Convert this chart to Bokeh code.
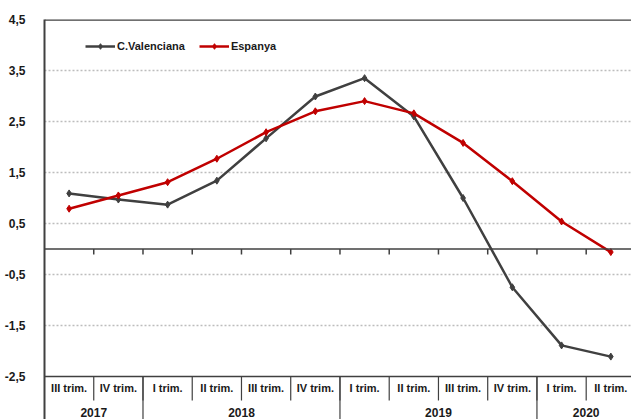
from bokeh.plotting import figure
from bokeh.models import (ColumnDataSource, FixedTicker, Span, Legend, LegendItem,
                          Range1d, CustomJSTickFormatter)
from bokeh.core.properties import value
from bokeh.embed import file_html
from bokeh.resources import INLINE

# ---- data ----
quarters = ["III trim.", "IV trim.", "I trim.", "II trim.", "III trim.", "IV trim.",
            "I trim.", "II trim.", "III trim.", "IV trim.", "I trim.", "II trim."]
years = ["2017", "2018", "2019", "2020"]
year_counts = [2, 4, 4, 2]
valenciana = [1.09, 0.97, 0.87, 1.34, 2.17, 2.99, 3.35, 2.60, 1.00, -0.75, -1.89, -2.11]
espanya = [0.79, 1.05, 1.31, 1.77, 2.29, 2.70, 2.90, 2.66, 2.08, 1.33, 0.54, -0.06]
y_ticks = [-2.5, -1.5, -0.5, 0.5, 1.5, 2.5, 3.5, 4.5]
grid_ticks = [-1.5, -0.5, 0.5, 1.5, 2.5, 3.5]

FONT = "Liberation Sans"
DARK = "#404040"
RED = "#C00000"

n = len(quarters)
xs = [i + 0.5 for i in range(n)]

p = figure(width=631, height=419, output_backend="svg", toolbar_location=None,
           x_range=Range1d(0, 11.92), y_range=Range1d(-3.343, 4.5),
           min_border_left=44, min_border_right=0, min_border_top=19, min_border_bottom=0)
p.outline_line_color = None
p.background_fill_color = "white"
p.border_fill_color = "white"

# axes
p.xaxis.visible = False
p.xgrid.visible = False
p.yaxis.ticker = FixedTicker(ticks=y_ticks)
p.yaxis.formatter = CustomJSTickFormatter(code="return tick.toFixed(1).replace('.', ',');")
p.yaxis.major_tick_line_color = None
p.yaxis.minor_tick_line_color = None
p.yaxis.major_label_standoff = 13
p.yaxis.axis_line_color = DARK
p.yaxis.axis_line_width = 2
p.yaxis.major_label_text_font = FONT
p.yaxis.major_label_text_font_style = "bold"
p.yaxis.major_label_text_font_size = "12px"
p.yaxis.major_label_text_color = "#1a1a1a"

p.ygrid.ticker = FixedTicker(ticks=grid_ticks)
p.ygrid.grid_line_color = "#bdbdbd"
p.ygrid.grid_line_dash = "2 2"
p.ygrid.grid_line_width = 1.5

# frame lines
p.add_layout(Span(location=4.5, dimension="width", line_color=DARK, line_width=2.5))
p.add_layout(Span(location=-2.5, dimension="width", line_color=DARK, line_width=1.5))
p.add_layout(Span(location=0, dimension="width", line_color=DARK, line_width=1.5))

# tick marks on zero line
bounds = list(range(1, n))
p.segment(x0=bounds, y0=[0] * len(bounds), x1=bounds, y1=[-0.11] * len(bounds),
          line_color=DARK, line_width=1.5)

# category table separators
p.segment(x0=bounds, y0=[-2.5] * len(bounds), x1=bounds, y1=[-2.97] * len(bounds),
          line_color=DARK, line_width=1.2)
ybounds = []
acc = 0
for c in year_counts[:-1]:
    acc += c
    ybounds.append(acc)
p.segment(x0=ybounds, y0=[-2.5] * len(ybounds), x1=ybounds, y1=[-3.5] * len(ybounds),
          line_color=DARK, line_width=1.2)

# quarter labels
p.text(x=xs, y=[-2.735] * n, text=quarters, text_align="center", text_baseline="middle",
       text_font=value(FONT), text_font_style="bold", text_font_size="11px",
       text_color="#1a1a1a")
# year labels
ycent = []
acc = 0
for c in year_counts:
    ycent.append(acc + c / 2)
    acc += c
p.text(x=ycent, y=[-3.21] * len(years), text=years, text_align="center",
       text_baseline="middle", text_font=value(FONT), text_font_style="bold",
       text_font_size="12px", text_color="#1a1a1a")

# series
src = ColumnDataSource(dict(x=xs, v=valenciana, e=espanya))
lv = p.line("x", "v", source=src, line_color=DARK, line_width=2.5)
mv = p.scatter("x", "v", source=src, marker="diamond", size=7, color=DARK)
le = p.line("x", "e", source=src, line_color=RED, line_width=2.5)
me = p.scatter("x", "e", source=src, marker="diamond", size=7, color=RED)

legend = Legend(items=[LegendItem(label="C.Valenciana", renderers=[lv, mv]),
                       LegendItem(label="Espanya", renderers=[le, me])],
                orientation="horizontal", location=(41, 366),
                padding=0, margin=0, spacing=14, label_standoff=2,
                glyph_width=30, glyph_height=14, label_height=14,
                background_fill_alpha=0, border_line_color=None,
                label_text_font=FONT, label_text_font_style="bold",
                label_text_font_size="11px", label_text_color="#1a1a1a")
p.add_layout(legend, "center")

open("out.html", "w").write(file_html(p, INLINE))
